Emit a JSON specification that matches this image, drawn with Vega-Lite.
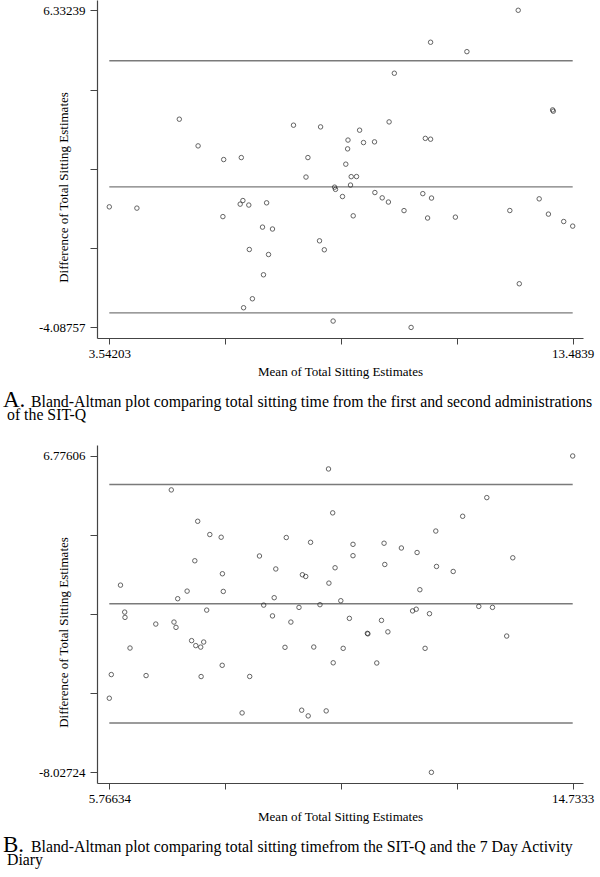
{
  "$schema": "https://vega.github.io/schema/vega-lite/v6.json",
  "padding": {"left": 3, "top": 0, "right": 0, "bottom": 0},
  "spacing": 21,
  "config": {
    "view": {"stroke": null},
    "font": "Liberation Serif",
    "axis": {
      "grid": false,
      "domainColor": "#444444",
      "domainWidth": 1.2,
      "tickColor": "#444444",
      "tickWidth": 1,
      "labelFont": "Liberation Serif",
      "labelFontSize": 13,
      "labelColor": "#000000",
      "labelOverlap": false,
      "labelFlush": false,
      "titleFont": "Liberation Serif",
      "titleFontSize": 13,
      "titleFontWeight": "normal",
      "titleColor": "#000000"
    },
    "axisX": {"tickSize": 6, "labelPadding": 3, "titlePadding": 5},
    "axisY": {"tickSize": 7, "labelPadding": 5, "titleX": -34, "titleY": 187, "titleAngle": -90, "titleBaseline": "middle", "titleAlign": "center"},
    "title": {
      "orient": "bottom",
      "anchor": "start",
      "frame": "group",
      "dx": -94,
      "offset": 11,
      "font": "Liberation Serif",
      "fontSize": 23,
      "fontWeight": "normal",
      "color": "#000000",
      "subtitleFont": "Liberation Serif",
      "subtitleFontSize": 15.8,
      "subtitleColor": "#000000",
      "subtitleLineHeight": 13.3,
      "subtitlePadding": -17
    }
  },
  "datasets": {
    "a": [
      {"mean": 12.315, "diff": 6.33239}, {"mean": 10.435, "diff": 5.282}, {"mean": 11.214, "diff": 4.973},
      {"mean": 9.657, "diff": 4.264}, {"mean": 13.053, "diff": 3.059}, {"mean": 13.068, "diff": 3.017},
      {"mean": 5.044, "diff": 2.754}, {"mean": 7.494, "diff": 2.557}, {"mean": 8.075, "diff": 2.501},
      {"mean": 9.545, "diff": 2.665}, {"mean": 8.912, "diff": 2.393}, {"mean": 8.663, "diff": 2.068},
      {"mean": 8.996, "diff": 1.986}, {"mean": 9.232, "diff": 2.009}, {"mean": 10.322, "diff": 2.124},
      {"mean": 10.435, "diff": 2.097}, {"mean": 5.447, "diff": 1.877}, {"mean": 8.655, "diff": 1.779},
      {"mean": 5.996, "diff": 1.428}, {"mean": 6.374, "diff": 1.493}, {"mean": 7.803, "diff": 1.493},
      {"mean": 8.616, "diff": 1.276}, {"mean": 7.762, "diff": 0.853}, {"mean": 8.732, "diff": 0.866},
      {"mean": 8.846, "diff": 0.869}, {"mean": 8.717, "diff": 0.59}, {"mean": 8.376, "diff": 0.521},
      {"mean": 8.395, "diff": 0.449}, {"mean": 8.545, "diff": 0.213}, {"mean": 9.24, "diff": 0.344},
      {"mean": 9.397, "diff": 0.17}, {"mean": 9.53, "diff": 0.032}, {"mean": 10.268, "diff": 0.308},
      {"mean": 10.455, "diff": 0.163}, {"mean": 12.765, "diff": 0.137}, {"mean": 3.54203, "diff": -0.126},
      {"mean": 4.134, "diff": -0.168}, {"mean": 5.979, "diff": -0.447}, {"mean": 6.35, "diff": -0.037},
      {"mean": 6.408, "diff": 0.081}, {"mean": 6.535, "diff": -0.067}, {"mean": 6.917, "diff": 0.006},
      {"mean": 6.829, "diff": -0.792}, {"mean": 7.043, "diff": -0.854}, {"mean": 8.775, "diff": -0.421},
      {"mean": 9.865, "diff": -0.25}, {"mean": 10.371, "diff": -0.493}, {"mean": 10.967, "diff": -0.464},
      {"mean": 12.135, "diff": -0.247}, {"mean": 12.963, "diff": -0.365}, {"mean": 13.291, "diff": -0.608},
      {"mean": 13.4839, "diff": -0.759}, {"mean": 8.052, "diff": -1.242}, {"mean": 8.155, "diff": -1.537},
      {"mean": 6.546, "diff": -1.527}, {"mean": 6.958, "diff": -1.692}, {"mean": 6.85, "diff": -2.358},
      {"mean": 6.612, "diff": -3.146}, {"mean": 6.423, "diff": -3.441}, {"mean": 8.344, "diff": -3.878},
      {"mean": 10.017, "diff": -4.08757}, {"mean": 12.338, "diff": -2.653}
    ],
    "b": [
      {"mean": 14.7333, "diff": 6.77606}, {"mean": 10.008, "diff": 6.169}, {"mean": 6.966, "diff": 5.188},
      {"mean": 13.071, "diff": 4.828}, {"mean": 10.089, "diff": 4.114}, {"mean": 7.477, "diff": 3.721},
      {"mean": 12.604, "diff": 3.955}, {"mean": 7.711, "diff": 3.1}, {"mean": 7.931, "diff": 2.974},
      {"mean": 9.191, "diff": 2.96}, {"mean": 9.661, "diff": 2.736}, {"mean": 12.084, "diff": 3.264},
      {"mean": 10.482, "diff": 2.642}, {"mean": 11.083, "diff": 2.694}, {"mean": 11.418, "diff": 2.47},
      {"mean": 11.722, "diff": 2.259}, {"mean": 8.672, "diff": 2.096}, {"mean": 10.482, "diff": 2.11},
      {"mean": 11.097, "diff": 1.699}, {"mean": 13.574, "diff": 2.012}, {"mean": 7.421, "diff": 1.872},
      {"mean": 8.988, "diff": 1.489}, {"mean": 10.135, "diff": 1.545}, {"mean": 12.098, "diff": 1.606},
      {"mean": 12.421, "diff": 1.372}, {"mean": 7.955, "diff": 1.265}, {"mean": 9.503, "diff": 1.218},
      {"mean": 9.567, "diff": 1.138}, {"mean": 10.016, "diff": 0.826}, {"mean": 5.983, "diff": 0.732},
      {"mean": 7.272, "diff": 0.452}, {"mean": 7.972, "diff": 0.438}, {"mean": 11.776, "diff": 0.517},
      {"mean": 7.09, "diff": 0.097}, {"mean": 8.957, "diff": 0.144}, {"mean": 10.246, "diff": 0.003},
      {"mean": 8.754, "diff": -0.202}, {"mean": 9.843, "diff": -0.183}, {"mean": 9.437, "diff": -0.309},
      {"mean": 12.916, "diff": -0.263}, {"mean": 13.181, "diff": -0.309}, {"mean": 7.651, "diff": -0.436},
      {"mean": 6.064, "diff": -0.529}, {"mean": 6.07, "diff": -0.777}, {"mean": 11.635, "diff": -0.473},
      {"mean": 11.705, "diff": -0.394}, {"mean": 11.962, "diff": -0.604}, {"mean": 8.924, "diff": -0.707},
      {"mean": 10.412, "diff": -0.823}, {"mean": 11.033, "diff": -0.917}, {"mean": 6.666, "diff": -1.089},
      {"mean": 7.018, "diff": -0.996}, {"mean": 7.057, "diff": -1.244}, {"mean": 9.28, "diff": -0.996},
      {"mean": 10.76, "diff": -1.524}, {"mean": 10.77, "diff": -1.547}, {"mean": 11.157, "diff": -1.454},
      {"mean": 13.456, "diff": -1.65}, {"mean": 6.167, "diff": -2.211}, {"mean": 7.359, "diff": -1.865},
      {"mean": 7.44, "diff": -2.098}, {"mean": 7.535, "diff": -2.168}, {"mean": 7.593, "diff": -1.93},
      {"mean": 9.166, "diff": -2.178}, {"mean": 9.723, "diff": -2.164}, {"mean": 10.292, "diff": -2.225},
      {"mean": 11.877, "diff": -2.225}, {"mean": 7.951, "diff": -3.019}, {"mean": 10.099, "diff": -2.902},
      {"mean": 10.942, "diff": -2.911}, {"mean": 5.805, "diff": -3.453}, {"mean": 6.478, "diff": -3.5},
      {"mean": 7.543, "diff": -3.546}, {"mean": 8.483, "diff": -3.542}, {"mean": 5.76634, "diff": -4.56},
      {"mean": 8.336, "diff": -5.247}, {"mean": 9.489, "diff": -5.12}, {"mean": 9.615, "diff": -5.387},
      {"mean": 9.963, "diff": -5.153}, {"mean": 11.999, "diff": -8.02724}
    ],
    "la": [
      {"diff": 4.672, "lo": 3.54203, "hi": 13.4839},
      {"diff": 0.5305, "lo": 3.54203, "hi": 13.4839},
      {"diff": -3.611, "lo": 3.54203, "hi": 13.4839}
    ],
    "lb": [
      {"diff": 5.444, "lo": 5.76634, "hi": 14.7333},
      {"diff": -0.137, "lo": 5.76634, "hi": 14.7333},
      {"diff": -5.718, "lo": 5.76634, "hi": 14.7333}
    ]
  },
  "vconcat": [
    {
      "width": 486,
      "height": 338,
      "title": {
        "text": "A.",
        "subtitle": ["\u2800\u2800Bland-Altman plot comparing total sitting time  from the first and second administrations", "of the SIT-Q"],
        "encode": {"subtitle": {"update": {"dx": {"value": -90}}}}
      },
      "layer": [
        {
          "data": {"name": "la"},
          "mark": {"type": "rule", "color": "#7a7a7a", "strokeWidth": 1.4},
          "encoding": {
            "x": {"field": "lo", "type": "quantitative", "scale": {"domain": [3.2781, 13.705], "nice": false, "zero": false}},
            "x2": {"field": "hi"},
            "y": {"field": "diff", "type": "quantitative", "scale": {"domain": [-4.435, 6.67], "nice": false, "zero": false}}
          }
        },
        {
          "data": {"name": "a"},
          "mark": {"type": "point", "shape": "circle", "filled": false, "size": 20, "strokeWidth": 1, "color": "#222222"},
          "encoding": {
            "x": {
              "field": "mean", "type": "quantitative",
              "scale": {"domain": [3.2781, 13.705], "nice": false, "zero": false},
              "axis": {"title": "Mean of Total Sitting Estimates", "values": [3.54203, 6.0275, 8.51297, 10.99844, 13.4839], "labelExpr": "datum.value < 4 || datum.value > 13 ? '' + datum.value : ''"}
            },
            "y": {
              "field": "diff", "type": "quantitative",
              "scale": {"domain": [-4.435, 6.67], "nice": false, "zero": false},
              "axis": {"title": "Difference of Total Sitting Estimates", "values": [-4.08757, -1.48258, 1.12241, 3.7274, 6.33239], "labelExpr": "abs(datum.value) > 4 ? '' + datum.value : ''"}
            }
          }
        }
      ]
    },
    {
      "width": 486,
      "height": 338,
      "title": {
        "text": "B.",
        "subtitle": ["\u2800\u2800Bland-Altman plot comparing total sitting timefrom the SIT-Q and the 7 Day Activity", "Diary"],
        "encode": {"subtitle": {"update": {"dx": {"value": -90}}}}
      },
      "layer": [
        {
          "data": {"name": "lb"},
          "mark": {"type": "rule", "color": "#7a7a7a", "strokeWidth": 1.4},
          "encoding": {
            "x": {"field": "lo", "type": "quantitative", "scale": {"domain": [5.5283, 14.9326], "nice": false, "zero": false}},
            "x2": {"field": "hi"},
            "y": {"field": "diff", "type": "quantitative", "scale": {"domain": [-8.527, 7.29], "nice": false, "zero": false}}
          }
        },
        {
          "data": {"name": "b"},
          "mark": {"type": "point", "shape": "circle", "filled": false, "size": 20, "strokeWidth": 1, "color": "#222222"},
          "encoding": {
            "x": {
              "field": "mean", "type": "quantitative",
              "scale": {"domain": [5.5283, 14.9326], "nice": false, "zero": false},
              "axis": {"title": "Mean of Total Sitting Estimates", "values": [5.76634, 8.00808, 10.24982, 12.49156, 14.7333], "labelExpr": "datum.value < 6 || datum.value > 14 ? '' + datum.value : ''"}
            },
            "y": {
              "field": "diff", "type": "quantitative",
              "scale": {"domain": [-8.527, 7.29], "nice": false, "zero": false},
              "axis": {"title": "Difference of Total Sitting Estimates", "values": [-8.02724, -4.326415, -0.62559, 3.075235, 6.77606], "labelExpr": "abs(datum.value) > 5 ? '' + datum.value : ''"}
            }
          }
        }
      ]
    }
  ]
}
